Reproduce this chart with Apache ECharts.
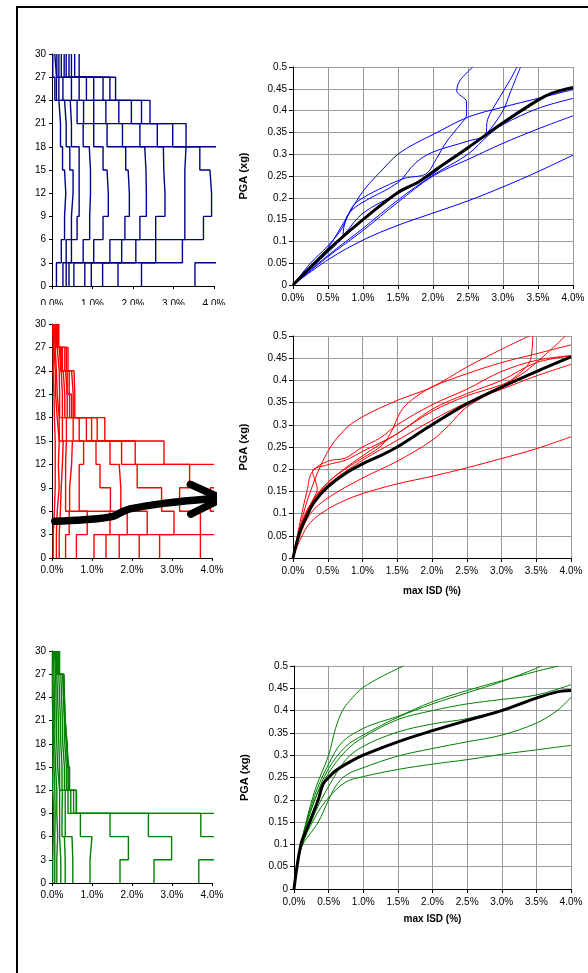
<!DOCTYPE html>
<html><head><meta charset="utf-8">
<script src="https://cdn.jsdelivr.net/npm/echarts@6/dist/echarts.min.js"></script>
<style>html,body{margin:0;padding:0;background:#fff}#c{width:588px;height:973px}</style>
</head><body><div id="c"></div>
<script>
// ---------- data ----------
const storyLevels = [0,3,6,9,12,15,18,21,24,27,30];
const leftXLabels = ['0.0%','1.0%','2.0%','3.0%','4.0%'];
const rightXLabels = ['0.0%','0.5%','1.0%','1.5%','2.0%','2.5%','3.0%','3.5%','4.0%'];
const rightYLabels = ['0','0.05','0.1','0.15','0.2','0.25','0.3','0.35','0.4','0.45','0.5'];

// inter-storey drift (%) per 3-storey band, bottom band first
const blueProfiles = [
  [0.11,0.23,0.31,0.34,0.31,0.26,0.21,0.17,0.07,0.02],
  [0.27,0.35,0.48,0.52,0.52,0.44,0.35,0.31,0.11,0.07],
  [0.35,0.48,0.62,0.67,0.67,0.67,0.48,0.45,0.17,0.12],
  [0.42,0.77,0.93,0.95,0.95,0.92,0.77,0.62,0.27,0.17],
  [0.54,1.03,1.26,1.39,1.36,1.26,1.03,0.78,0.48,0.23],
  [0.81,1.43,1.80,1.91,1.88,1.82,1.36,1.03,0.67,0.30],
  [0.97,1.72,2.17,2.33,2.32,2.29,1.74,1.33,0.85,0.35],
  [1.25,2.07,2.56,2.79,2.76,2.75,2.17,1.65,1.03,0.42],
  [1.63,2.56,3.28,3.28,3.28,3.31,2.60,1.96,1.26,0.48],
  [2.21,3.22,3.74,3.94,3.90,3.65,2.98,2.21,1.43,0.56],
  [3.53,5.00,5.00,5.00,5.00,5.00,3.31,2.42,1.57,0.67]
];
const redProfiles = [
  [0.03,0.06,0.08,0.08,0.08,0.06,0.05,0.03,0.03,0.02],
  [0.11,0.13,0.18,0.16,0.18,0.13,0.09,0.08,0.05,0.03],
  [0.18,0.21,0.23,0.26,0.28,0.18,0.13,0.11,0.08,0.05],
  [0.34,0.43,0.34,0.34,0.36,0.26,0.19,0.18,0.13,0.08],
  [0.61,0.88,0.44,0.49,0.51,0.36,0.26,0.23,0.18,0.09],
  [1.05,1.45,0.68,0.68,0.79,0.53,0.32,0.28,0.21,0.11],
  [1.35,1.88,1.46,1.20,1.10,0.68,0.38,0.34,0.23,0.13],
  [1.68,2.38,1.72,1.68,1.45,0.86,0.44,0.38,0.26,0.13],
  [2.18,3.05,2.74,2.13,1.74,0.99,0.49,0.43,0.32,0.15],
  [2.69,3.71,3.19,3.44,2.08,1.13,0.53,0.49,0.36,0.16],
  [3.71,5.00,3.96,5.00,2.80,1.32,0.57,0.55,0.40,0.17]
];
const greenProfiles = [
  [0.02,0.03,0.04,0.02,0.02,0.02,0.02,0.01,0.01,0.01],
  [0.07,0.07,0.08,0.07,0.05,0.04,0.03,0.03,0.02,0.02],
  [0.12,0.14,0.12,0.12,0.09,0.07,0.07,0.06,0.05,0.03],
  [0.22,0.19,0.19,0.19,0.14,0.12,0.11,0.10,0.09,0.06],
  [0.33,0.31,0.25,0.26,0.19,0.17,0.16,0.14,0.12,0.08],
  [0.52,0.50,0.33,0.33,0.25,0.22,0.21,0.19,0.17,0.11],
  [0.95,1.00,0.71,0.40,0.31,0.27,0.26,0.24,0.22,0.13],
  [1.70,1.91,1.45,0.47,0.36,0.32,0.31,0.29,0.27,0.15],
  [2.55,2.99,2.41,0.54,0.40,0.36,0.32,0.29,0.27,0.17],
  [3.67,5.00,3.72,0.61,0.42,0.37,0.33,0.31,0.29,0.18],
  [5.00,5.00,5.00,0.61,0.44,0.38,0.33,0.31,0.30,0.19]
];

// IDA curves: [max ISD (%), PGA (g)]
const blueCurves = [
  [[0,0],[0.5,0.058],[1.0,0.103],[1.5,0.137],[2.0,0.165],[2.5,0.193],[3.0,0.225],[3.5,0.26],[4.0,0.298]],
  [[0,0],[0.5,0.065],[1.0,0.125],[1.5,0.19],[2.0,0.25],[2.5,0.288],[3.0,0.325],[3.5,0.358],[4.0,0.388]],
  [[0,0],[0.5,0.068],[1.0,0.13],[1.5,0.195],[2.0,0.252],[2.5,0.3],[2.8,0.345],[3.0,0.368],[3.5,0.405],[4.0,0.428]],
  [[0,0],[0.3,0.05],[0.5,0.085],[0.75,0.15],[1.0,0.215],[1.25,0.26],[1.5,0.3],[1.75,0.325],[2.0,0.345],[2.5,0.385],[3.0,0.408],[3.5,0.428],[4.0,0.448]],
  [[0,0],[0.25,0.05],[0.5,0.09],[0.7,0.13],[0.85,0.18],[1.0,0.2],[1.3,0.225],[1.6,0.245],[1.9,0.255],[2.05,0.29],[2.2,0.33],[2.4,0.37],[2.48,0.39],[2.48,0.42],[2.34,0.445],[2.38,0.468],[2.57,0.5]],
  [[0,0],[0.5,0.075],[0.7,0.11],[0.73,0.135],[0.8,0.165],[1.0,0.19],[1.5,0.235],[1.75,0.28],[2.0,0.305],[2.5,0.33],[2.75,0.345],[2.78,0.38],[2.95,0.43],[3.1,0.47],[3.2,0.5]],
  [[0,0],[0.5,0.08],[0.75,0.12],[1.0,0.165],[1.5,0.21],[2.0,0.255],[2.25,0.29],[2.5,0.315],[2.75,0.345],[3.0,0.4],[3.1,0.44],[3.25,0.5]]
];
const blueMedian = [[0,0],[0.5,0.08],[1.0,0.15],[1.5,0.212],[1.8,0.237],[2.0,0.26],[2.5,0.315],[3.0,0.372],[3.5,0.424],[3.7,0.44],[4.0,0.453]];

const redCurves = [
  [[0,0],[0.1,0.04],[0.25,0.08],[0.5,0.11],[0.75,0.13],[1.0,0.145],[1.5,0.167],[2.0,0.184],[2.5,0.203],[3.0,0.224],[3.5,0.246],[4.0,0.273]],
  [[0,0],[0.1,0.05],[0.25,0.1],[0.5,0.135],[1.0,0.18],[1.5,0.218],[2.0,0.265],[2.25,0.3],[2.5,0.34],[3.0,0.385],[3.25,0.415],[3.4,0.44],[3.44,0.47],[3.45,0.5]],
  [[0,0],[0.1,0.07],[0.25,0.15],[0.5,0.24],[0.75,0.29],[1.0,0.318],[1.5,0.355],[2.0,0.385],[2.5,0.43],[3.0,0.47],[3.4,0.5]],
  [[0,0],[0.15,0.09],[0.3,0.135],[0.35,0.155],[0.28,0.195],[0.5,0.21],[0.75,0.22],[1.0,0.24],[1.5,0.28],[2.0,0.335],[2.5,0.37],[3.0,0.4],[3.5,0.44],[4.0,0.455]],
  [[0,0],[0.1,0.06],[0.25,0.12],[0.5,0.17],[0.75,0.2],[1.0,0.225],[1.25,0.25],[1.4,0.28],[1.55,0.33],[1.7,0.355],[2.0,0.385],[2.5,0.415],[3.0,0.44],[3.5,0.46],[4.0,0.48]],
  [[0,0],[0.1,0.06],[0.25,0.12],[0.5,0.17],[1.0,0.23],[1.5,0.28],[2.0,0.33],[2.5,0.365],[3.0,0.39],[3.25,0.41],[3.5,0.44],[3.75,0.475],[3.92,0.5]],
  [[0,0],[0.1,0.06],[0.25,0.12],[0.5,0.165],[1.0,0.22],[1.5,0.265],[2.0,0.31],[2.5,0.35],[3.0,0.38],[3.5,0.41],[4.0,0.436]],
  [[0,0],[0.1,0.08],[0.2,0.15],[0.28,0.195],[0.5,0.218],[0.75,0.225],[1.0,0.25],[1.25,0.27],[1.5,0.3],[2.0,0.345],[2.5,0.38],[3.0,0.42],[3.5,0.445],[4.0,0.456]]
];
const redMedian = [[0,0],[0.1,0.06],[0.2,0.095],[0.3,0.125],[0.5,0.16],[0.75,0.19],[1.0,0.212],[1.25,0.23],[1.5,0.25],[1.75,0.275],[2.0,0.3],[2.5,0.347],[3.0,0.385],[3.5,0.42],[4.0,0.453]];

const greenCurves = [
  [[0,0],[0.1,0.09],[0.3,0.16],[0.5,0.205],[0.75,0.24],[1.0,0.252],[1.5,0.268],[2.0,0.28],[2.5,0.29],[3.0,0.302],[3.5,0.312],[4.0,0.322]],
  [[0,0],[0.1,0.09],[0.35,0.15],[0.5,0.2],[0.6,0.23],[0.75,0.255],[1.0,0.272],[1.5,0.298],[2.0,0.315],[2.5,0.33],[3.0,0.345],[3.5,0.372],[3.8,0.4],[4.0,0.43]],
  [[0,0],[0.1,0.1],[0.3,0.22],[0.5,0.3],[0.6,0.36],[0.7,0.4],[0.85,0.43],[1.0,0.452],[1.25,0.475],[1.58,0.5]],
  [[0,0],[0.1,0.1],[0.3,0.2],[0.5,0.27],[0.75,0.32],[1.0,0.345],[1.5,0.385],[2.0,0.415],[2.5,0.44],[3.0,0.465],[3.58,0.5]],
  [[0,0],[0.1,0.1],[0.3,0.21],[0.5,0.28],[0.7,0.33],[1.0,0.36],[1.25,0.375],[1.5,0.387],[2.0,0.42],[2.5,0.445],[3.0,0.467],[3.5,0.488],[3.82,0.5]],
  [[0,0],[0.1,0.1],[0.3,0.2],[0.5,0.26],[0.75,0.31],[1.0,0.34],[1.5,0.38],[2.0,0.4],[2.5,0.415],[3.0,0.425],[3.5,0.435],[4.0,0.458]],
  [[0,0],[0.1,0.09],[0.3,0.17],[0.5,0.23],[0.75,0.29],[1.0,0.32],[1.5,0.352],[2.0,0.37],[2.5,0.382],[3.0,0.402],[3.5,0.43],[4.0,0.447]]
];
const greenMedian = [[0,0],[0.1,0.1],[0.2,0.14],[0.35,0.2],[0.42,0.235],[0.5,0.25],[0.6,0.265],[0.75,0.28],[1.0,0.3],[1.5,0.33],[2.0,0.355],[2.5,0.378],[3.0,0.4],[3.5,0.428],[3.8,0.442],[4.0,0.445]];

// arrow annotation on the middle drift-profile panel (drift %, storey)
const arrowPath = [[0.07,4.7],[0.8,4.9],[1.5,5.3],[1.75,5.9],[1.95,6.3],[2.79,7.0],[3.96,7.6]];
const arrowHead = [[3.46,9.45],[4.25,7.6],[3.47,5.64]];

// ---------- chart ----------
const FONT = '"Liberation Sans", Arial, sans-serif';
const chart = echarts.init(document.getElementById('c'), null, {renderer:'canvas'});

const grids = [
  {left:52, top:54, width:162, height:232},
  {left:52, top:324, width:160, height:234},
  {left:52, top:651, width:160, height:232},
  {left:293, top:67, width:280, height:218},
  {left:293, top:336, width:278, height:222},
  {left:294, top:666, width:277, height:223}
];

const blackAxisLine = {show:true, onZero:false, lineStyle:{color:'#000', width:1}};
const lbl = {fontSize:10, color:'#000', fontFamily:FONT};

const xAxes = [], yAxes = [];
for (let g = 0; g < 3; g++) {
  xAxes.push({gridIndex:g, type:'value', min:0, max:4, interval:1,
    axisLine:blackAxisLine, axisTick:{show:true, length:3, lineStyle:{color:'#000'}},
    axisLabel:Object.assign({margin:g === 0 ? 13 : 7, formatter:v=>leftXLabels[Math.round(v)]}, lbl),
    splitLine:{show:false}});
  yAxes.push({gridIndex:g, type:'value', min:0, max:30, interval:3,
    axisLine:blackAxisLine, axisTick:{show:true, length:3, lineStyle:{color:'#000'}},
    axisLabel:Object.assign({margin:6, formatter:v=>String(v)}, lbl),
    splitLine:{show:false}});
}
for (let g = 3; g < 6; g++) {
  const ax = {gridIndex:g, type:'value', min:0, max:4, interval:0.5,
    axisLine:blackAxisLine, axisTick:{show:true, length:4, lineStyle:{color:'#000'}},
    axisLabel:Object.assign({margin:8, formatter:v=>rightXLabels[Math.round(v*2)]}, lbl),
    splitLine:{show:true, lineStyle:{color:'#9a9a9a', width:1}}};
  if (g > 3) {
    ax.name = 'max ISD (%)'; ax.nameLocation = 'middle'; ax.nameGap = g === 4 ? 28 : 25;
    ax.nameTextStyle = {fontSize:10, fontWeight:'bold', color:'#000', fontFamily:FONT};
  }
  xAxes.push(ax);
  yAxes.push({gridIndex:g, type:'value', min:0, max:0.5, interval:0.05,
    name:'PGA (xg)', nameLocation:'middle', nameGap:44,
    nameTextStyle:{fontSize:11, fontWeight:'bold', color:'#000', fontFamily:FONT},
    axisLine:blackAxisLine, axisTick:{show:true, length:4, lineStyle:{color:'#000'}},
    axisLabel:Object.assign({margin:6, formatter:v=>rightYLabels[Math.round(v*20)]}, lbl),
    splitLine:{show:true, lineStyle:{color:'#9a9a9a', width:1}}});
}

const series = [];
function stepData(p) {
  const d = [];
  p.forEach((v, i) => { d.push([v, storyLevels[i]]); d.push([v, storyLevels[i+1]]); });
  return d;
}
function addProfiles(profiles, g, color) {
  profiles.forEach(p => series.push({type:'line', xAxisIndex:g, yAxisIndex:g, data:stepData(p),
    symbol:'none', clip:true, silent:true, lineStyle:{color:color, width:1.4}, z:2}));
}
function addCurves(curves, median, g, color) {
  curves.forEach(c => series.push({type:'line', xAxisIndex:g, yAxisIndex:g, data:c,
    symbol:'none', smooth:0.35, clip:true, silent:true, lineStyle:{color:color, width:1}, z:2}));
  series.push({type:'line', xAxisIndex:g, yAxisIndex:g, data:median,
    symbol:'none', smooth:0.35, clip:true, silent:true, lineStyle:{color:'#000', width:3}, z:3});
}
addProfiles(blueProfiles, 0, '#00008b');
addProfiles(redProfiles, 1, '#ff0000');
addProfiles(greenProfiles, 2, '#008000');
addCurves(blueCurves, blueMedian, 3, '#0000ff');
addCurves(redCurves, redMedian, 4, '#ff0000');
addCurves(greenCurves, greenMedian, 5, '#008000');

series.push({type:'line', xAxisIndex:1, yAxisIndex:1, data:arrowPath, symbol:'none', smooth:0.4,
  clip:false, silent:true, lineStyle:{color:'#000', width:7.5, cap:'round', join:'round'}, z:5});
series.push({type:'line', xAxisIndex:1, yAxisIndex:1, data:arrowHead, symbol:'none',
  clip:false, silent:true, lineStyle:{color:'#000', width:7.5, cap:'round', join:'miter'}, z:5});

chart.setOption({
  animation:false,
  backgroundColor:'#fff',
  grid:grids,
  xAxis:xAxes,
  yAxis:yAxes,
  series:series,
  graphic:[
    {type:'rect', silent:true, z:100, shape:{x:17, y:7, width:700, height:1100},
      style:{fill:'none', stroke:'#000', lineWidth:2}},
    {type:'rect', silent:true, z:100, shape:{x:28, y:305, width:205, height:12},
      style:{fill:'#fff'}}
  ]
});
</script></body></html>
